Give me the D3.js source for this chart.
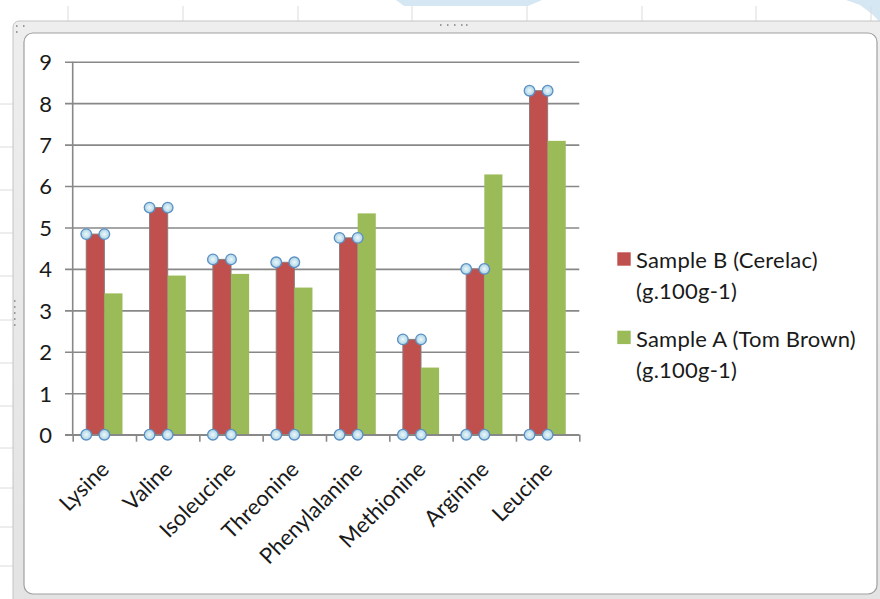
<!DOCTYPE html>
<html>
<head>
<meta charset="utf-8">
<script src="https://cdn.jsdelivr.net/npm/d3@7"></script>
<style>
  html, body { margin: 0; padding: 0; background: #ffffff; }
  svg { display: block; }
  text { font-family: Lato, "Open Sans", sans-serif; }
</style>
</head>
<body>
<svg id="chart" width="880" height="599"></svg>
<script>
// ---- data ----
const categories = ["Lysine", "Valine", "Isoleucine", "Threonine", "Phenylalanine", "Methionine", "Arginine", "Leucine"];
const seriesNames = ["Sample B (Cerelac) (g.100g-1)", "Sample A (Tom Brown) (g.100g-1)"];
const legendLines = [["Sample B (Cerelac)", "(g.100g-1)"], ["Sample A (Tom Brown)", "(g.100g-1)"]];
const sampleB = [4.84, 5.48, 4.23, 4.16, 4.75, 2.30, 4.00, 8.30];
const sampleA = [3.41, 3.84, 3.88, 3.55, 5.34, 1.62, 6.28, 7.09];
const yTicks = [0, 1, 2, 3, 4, 5, 6, 7, 8, 9];
const seriesColors = ["#C0504D", "#9BBB59"];

const svg = d3.select("#chart");

// ---- spreadsheet background (decorative) ----
const bg = svg.append("g");
bg.append("path").attr("d", "M396,0 L542,0 L528,6 L404,6 Z").attr("fill", "#d5e7f2");
bg.append("path").attr("d", "M846,0 L880,0 L880,22 L872,14 L860,5 Z").attr("fill", "#d5e7f2");
[68, 183, 298, 412, 527, 642, 756, 871].forEach(x => {
  bg.append("line").attr("x1", x).attr("x2", x).attr("y1", 6).attr("y2", 21)
    .attr("stroke", "#dcdcdc").attr("stroke-width", 1);
});
[104, 147, 190, 233, 276, 320, 363, 406, 448, 488, 527, 566].forEach(y => {
  bg.append("line").attr("x1", 0).attr("x2", 13).attr("y1", y).attr("y2", y)
    .attr("stroke", "#dcdcdc").attr("stroke-width", 1);
});

const defs = svg.append("defs");
const fg = defs.append("linearGradient").attr("id", "frameGrad").attr("x1", 0).attr("y1", 0).attr("x2", 0).attr("y2", 1);
fg.append("stop").attr("offset", "0%").attr("stop-color", "#eeeeee");
fg.append("stop").attr("offset", "100%").attr("stop-color", "#e3e3e3");
bg.append("rect").attr("x", 13).attr("y", 21).attr("width", 890).attr("height", 590).attr("rx", 6)
  .attr("fill", "url(#frameGrad)").attr("stroke", "#c4c4c4").attr("stroke-width", 1);
bg.append("rect").attr("x", 24).attr("y", 33).attr("width", 853).attr("height", 561).attr("rx", 9)
  .attr("fill", "#ffffff").attr("stroke", "#a0a0a0").attr("stroke-width", 1.2);
const dots = [[440,24],[447,24],[454,24],[461,24],[466,24],[16,25],[23,25],[16,31],[14,300],[14,306],[14,312],[14,318],[14,324]];
dots.forEach(([x, y]) => bg.append("rect").attr("x", x).attr("y", y).attr("width", 1.5).attr("height", 2).attr("fill", "#999"));

// ---- scales ----
const plotLeft = 72.7, plotRight = 579.3, plotTop = 61.7, plotBottom = 434.7;
const x = d3.scaleBand().domain(categories).range([plotLeft, plotRight]).paddingInner(0.428).paddingOuter(0.214);
const xs = d3.scaleBand().domain(seriesNames).range([0, x.bandwidth()]);
const y = d3.scaleLinear().domain([0, 9]).range([plotBottom, plotTop]);
const xIdx = d3.scaleLinear().domain([0, categories.length]).range([plotLeft, plotRight]);

const g = svg.append("g");
const fontSize = "22px";

// ---- y gridlines + tick labels ----
const yAxis = g.append("g").attr("transform", `translate(${plotRight},0)`)
  .call(d3.axisLeft(y).tickValues(yTicks).tickFormat(d3.format("d")).tickSize(plotRight - 65).tickPadding(13));
yAxis.select(".domain").remove();
yAxis.selectAll(".tick line").attr("stroke", "#888888").attr("stroke-width", 1.6);
yAxis.selectAll(".tick text").attr("fill", "#1a1a1a").style("font-size", fontSize).style("font-family", "Lato, sans-serif")
  .attr("dy", "0.36em");

// ---- bars ----
const data = categories.map((c, i) => ({ cat: c, vals: [sampleB[i], sampleA[i]] }));
const groups = g.append("g").selectAll("g").data(data).join("g")
  .attr("transform", d => `translate(${x(d.cat)},0)`);
groups.selectAll("rect").data(d => d.vals.map((v, k) => ({ v, k, name: seriesNames[k] }))).join("rect")
  .attr("x", d => xs(d.name))
  .attr("y", d => y(d.v))
  .attr("width", xs.bandwidth())
  .attr("height", d => y(0) - y(d.v))
  .attr("fill", d => seriesColors[d.k])
  .attr("stroke", d => d.k === 0 ? "#8c7a7a" : "none")
  .attr("stroke-width", d => d.k === 0 ? 1 : 0);

// ---- axes lines ----
g.append("line").attr("x1", plotLeft).attr("x2", plotLeft).attr("y1", y(9)).attr("y2", y(0))
  .attr("stroke", "#888888").attr("stroke-width", 1.6);
const xAxis = g.append("g").attr("transform", `translate(0,${plotBottom})`)
  .call(d3.axisBottom(xIdx).tickValues(d3.range(0, categories.length + 1)).tickFormat("").tickSize(7).tickSizeOuter(0));
xAxis.select(".domain").attr("d", `M65,0H${plotRight}`).attr("stroke", "#888888").attr("stroke-width", 1.6);
xAxis.selectAll(".tick line").attr("stroke", "#888888").attr("stroke-width", 1.6);

// category labels
const xLab = g.append("g").attr("transform", `translate(0,${plotBottom})`)
  .call(d3.axisBottom(x).tickSize(0).tickSizeOuter(0));
xLab.select(".domain").remove();
xLab.selectAll(".tick text")
  .attr("x", 0).attr("y", 0).attr("dy", 0)
  .attr("text-anchor", "end")
  .attr("transform", "translate(6,36) rotate(-45)")
  .attr("fill", "#1a1a1a").style("font-size", fontSize).style("font-family", "Lato, sans-serif");

// ---- selection handles on Sample B bars ----
const rg = defs.append("radialGradient").attr("id", "handleGrad");
rg.append("stop").attr("offset", "0%").attr("stop-color", "#eef8fb");
rg.append("stop").attr("offset", "100%").attr("stop-color", "#a9d3e4");
const handles = [];
data.forEach(d => {
  const x0 = x(d.cat) + xs(seriesNames[0]);
  const x1 = x0 + xs.bandwidth();
  [y(d.vals[0]), y(0)].forEach(yy => { handles.push([x0, yy]); handles.push([x1, yy]); });
});
g.append("g").selectAll("circle").data(handles).join("circle")
  .attr("cx", d => d[0]).attr("cy", d => d[1]).attr("r", 5.3)
  .attr("fill", "url(#handleGrad)").attr("stroke", "#5b8fc4").attr("stroke-width", 1.3);

// ---- legend ----
const legend = g.append("g");
legendLines.forEach((lines, i) => {
  const top = 252.3 + i * 78.4;
  legend.append("rect").attr("x", 617.3).attr("y", top).attr("width", 13.4).attr("height", 13.4)
    .attr("fill", seriesColors[i]);
  lines.forEach((t, j) => {
    legend.append("text").attr("x", 636).attr("y", top + 16 + j * 31)
      .attr("fill", "#1a1a1a").style("font-size", fontSize).style("letter-spacing", "0.2px")
      .style("font-family", "Lato, sans-serif").text(t);
  });
});
</script>
</body>
</html>
